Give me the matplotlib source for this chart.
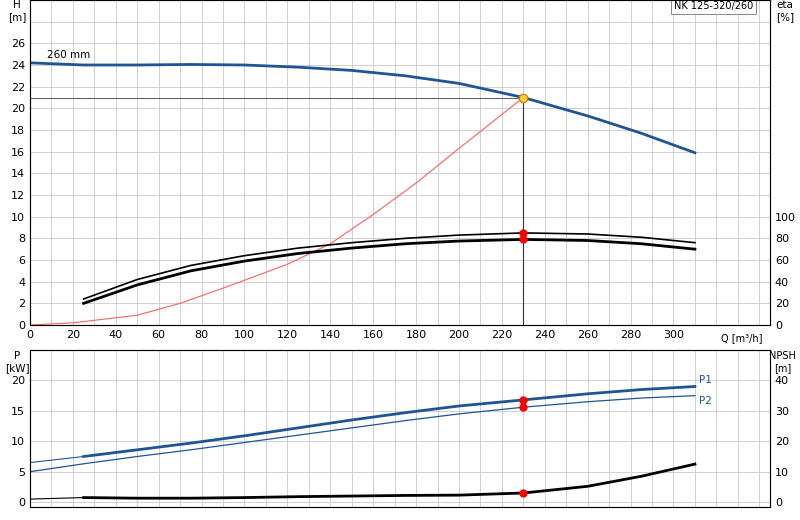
import matplotlib
matplotlib.use("Agg")
import matplotlib.pyplot as plt

q_h = [0, 25, 50, 75, 100, 125, 150, 175, 200, 230, 260, 285, 310]
h = [24.2, 24.0, 24.0, 24.05, 24.0, 23.8, 23.5, 23.0, 22.3, 21.0, 19.3, 17.7, 15.9]
q_sys = [0, 20, 50, 70, 90, 120, 140, 160, 180, 200, 230]
h_sys = [0, 0.2, 0.9, 2.0, 3.4, 5.6, 7.5, 10.2, 13.1, 16.3, 21.0]
q_eta = [25, 50, 75, 100, 125, 150, 175, 200, 230, 260, 285, 310]
eta1 = [24, 42, 55, 64, 71, 76, 80, 83, 85, 84, 81, 76]
eta2 = [20, 37, 50, 59, 66, 71, 75, 77.5, 79, 78, 75, 70]
q_p = [0, 25, 50, 75, 100, 125, 150, 175, 200, 230, 260, 285, 310]
p1 = [6.5, 7.5, 8.6, 9.7, 10.9, 12.2, 13.5, 14.7, 15.8, 16.8, 17.8, 18.5, 19.0]
p2 = [5.0, 6.3, 7.5, 8.6, 9.8, 11.0, 12.2, 13.4, 14.5, 15.6, 16.5, 17.1, 17.5]
npsh = [1.0, 1.5, 1.3, 1.3, 1.5, 1.8, 2.0, 2.2, 2.3, 3.0, 5.2, 8.5, 12.5]
q_op, h_op = 230, 21.0

blue = "#1f5596"
fig = plt.figure(figsize=(8, 5.2), dpi=100)
ax = fig.add_axes([30/800, 1-325/520, 740/800, 325/520])
bx = fig.add_axes([30/800, 1-507/520, 740/800, 157/520])
for a in (ax, bx):
    a.set_xlim(0, 345)
    a.set_xticks(range(0, 346, 10), minor=False)
    a.grid(True, color="#d0d0d0", lw=0.7)
    a.tick_params(labelsize=8, length=0)
    for s in a.spines.values():
        s.set_color("#888888")
ax.set_ylim(0, 30)
ax.set_yticks(range(0, 31, 2))
ax.set_yticklabels([str(v) if v <= 26 else "" for v in range(0, 31, 2)])
ax.set_xticklabels([str(v) if v % 20 == 0 and v <= 300 else "" for v in range(0, 346, 10)])
ax.text(322, -1.2, "Q [m³/h]", fontsize=7, va="center")
ax.plot(q_h, h, color=blue, lw=2)
ax.plot(q_sys, h_sys, color="#ff6060", lw=0.8)
ax.plot([0, q_op], [h_op, h_op], color="#666666", lw=0.8)
ax.plot([q_op, q_op], [0, h_op], color="#333333", lw=0.8)
ax.plot(q_eta, [v/10 for v in eta1], color="black", lw=1.2)
ax.plot(q_eta, [v/10 for v in eta2], color="black", lw=2)
ax.plot([q_op, q_op], [8.5, 7.9], "o", color="red", ms=5)
ax.plot(q_op, h_op, "o", mfc="#ffd040", mec="#e08000", ms=6)
ax.text(8, 24.6, "260 mm", fontsize=7.5)
ax.text(-6, 29, "H\n[m]", fontsize=7.5, ha="center", va="center")
ax2 = ax.twinx()
ax2.set_ylim(0, 300)
ax2.set_yticks(range(0, 101, 20))
ax2.tick_params(labelsize=8, length=0)
ax2.text(352, 290, "eta\n[%]", fontsize=7.5, ha="center", va="center")
ax.text(337, 29.4, "NK 125-320/260", fontsize=7, ha="right", va="center",
        bbox=dict(fc="white", ec="#888888", lw=0.7, pad=2))

bx.set_ylim(-0.8, 25)
bx.set_yticks([0, 5, 10, 15, 20])
bx.set_xticklabels([])
bx.plot(q_p[1:], p1[1:], color=blue, lw=2)
bx.plot(q_p[:2], p1[:2], color=blue, lw=0.8)
bx.plot(q_p, p2, color=blue, lw=0.9)
bx.plot(q_p[1:], [v/2 for v in npsh[1:]], color="black", lw=2)
bx.plot(q_p[:2], [v/2 for v in npsh[:2]], color="black", lw=0.8)
bx.plot([q_op]*3, [16.8, 15.6, 1.5], "o", color="red", ms=5)
bx.text(312, 19.6, "P1", fontsize=7.5, color=blue)
bx.text(312, 16.2, "P2", fontsize=7.5, color=blue)
bx.text(-6, 23, "P\n[kW]", fontsize=7.5, ha="center", va="center")
bx2 = bx.twinx()
bx2.set_ylim(-1.6, 50)
bx2.set_yticks([0, 10, 20, 30, 40])
bx2.tick_params(labelsize=8, length=0)
bx2.text(351, 46, "NPSH\n[m]", fontsize=7, ha="center", va="center")
fig.savefig("out.png", dpi=100)
